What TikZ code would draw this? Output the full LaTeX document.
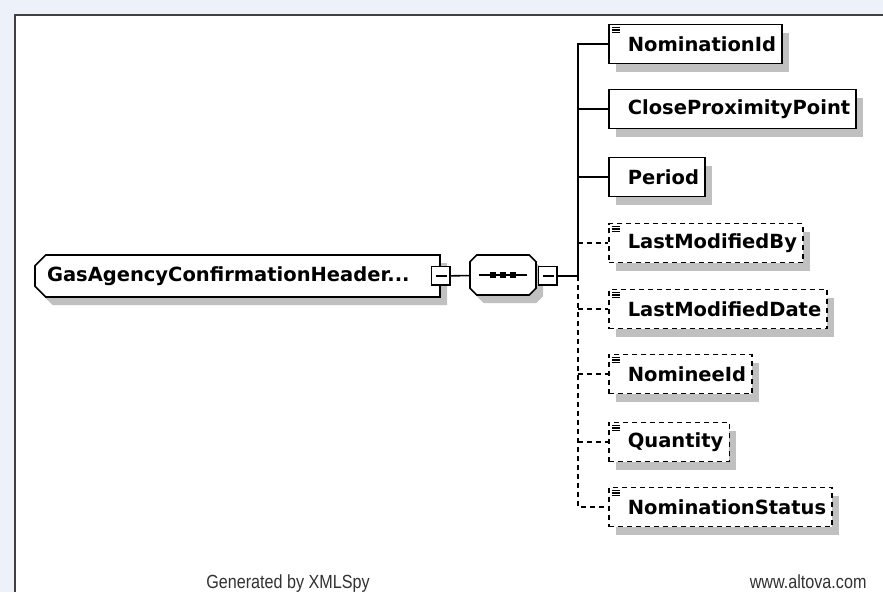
\documentclass[tikz,border=0pt]{standalone}
\usepackage{fontspec}
\setmainfont{DejaVu Sans}
\newfontfamily\footfont[FakeStretch=0.85]{Liberation Sans}
\usetikzlibrary{positioning, shapes.misc, shadows}

\definecolor{pagebg}{RGB}{237,241,250}
\definecolor{framegray}{RGB}{64,64,64}
\definecolor{shadowgray}{RGB}{192,192,192}
\definecolor{foottext}{RGB}{50,50,50}

\tikzset{
  boxshadow/.style={general shadow={shadow xshift=7pt, shadow yshift=-8pt, fill=shadowgray}},
  elem/.style={draw, fill=white, line width=1.6pt, anchor=west, minimum height=39pt,
    inner xsep=6pt, inner ysep=0pt, font=\fontsize{19.5}{19.5}\selectfont\bfseries,
    execute at begin node={\hspace*{13pt}}, boxshadow},
  optelem/.style={elem, dash pattern=on 5pt off 4pt},
  simple/.style={path picture={
    \foreach \k in {3,5.5,8}
      \draw[solid, line width=1.3pt] ([xshift=3pt, yshift=-\k pt]path picture bounding box.north west) -- ++(8pt,0pt);
  }},
  conn/.style={line width=1.6pt},
  optconn/.style={conn, dash pattern=on 5pt off 4pt},
  collapse/.style={draw, fill=white, line width=1.2pt, minimum size=19pt, inner sep=0pt,
    path picture={
      \draw[line width=1.4pt] ([xshift=4pt]path picture bounding box.west) -- ([xshift=-4pt]path picture bounding box.east);
      \draw[line width=4pt] (path picture bounding box.north east) -- (path picture bounding box.south east) -- (path picture bounding box.south west);
  }},
}

\begin{document}
\begin{tikzpicture}[x=1pt, y=-1pt]
  \useasboundingbox (0,0) rectangle (883,592);
  \fill[pagebg] (0,0) rectangle (883,592);
  \fill[white] (15,15) rectangle (883,592);
  \draw[framegray, line width=2pt] (15,592) -- (15,15) -- (883,15);

  % root element and sequence
  \node[draw, fill=white, line width=1.6pt, chamfered rectangle, chamfered rectangle corners={north west, south west},
        chamfered rectangle xsep=7pt, minimum width=391pt, minimum height=42pt, text width=367pt, align=left,
        inner xsep=12pt, font=\fontsize{19.5}{19.5}\selectfont\bfseries, boxshadow]
    (root) at (237.5,276) {\hspace*{-7pt}GasAgencyConfirmationHeader...};
  \node[collapse] (rootm) at (441,276) {};
  \node[draw, fill=white, line width=1.6pt, chamfered rectangle, chamfered rectangle xsep=10pt,
        minimum width=66pt, minimum height=40pt, boxshadow] (seq) at (503,275) {};
  \node[collapse] (seqm) at (548,276) {};
  \coordinate (bus) at (578,276);

  \draw[conn] ([xshift=10pt]seq.west) -- ([xshift=-10pt]seq.east);
  \foreach \dx in {-10,0,10}
    \fill ([xshift=\dx pt]seq.center) ++(-3,-3) rectangle ++(6,6);

  % children
  \node[elem, simple] (nomid) at (608,44) {NominationId};
  \node[elem] (proxpt) at (608,109) {CloseProximityPoint};
  \node[elem] (period) at (608,177) {Period};
  \node[optelem, simple] (lastby) at (608,243) {LastModifiedBy};
  \node[optelem, simple] (lastdate) at (608,309) {LastModifiedDate};
  \node[optelem, simple] (nominee) at (608,374) {NomineeId};
  \node[optelem, simple] (qty) at (608,442) {Quantity};
  \node[optelem, simple] (nomstatus) at (608,507) {NominationStatus};

  % connectors
  \draw[conn] (rootm) -- (seq);
  \draw[conn] (seqm) -- (bus);
  \draw[conn] (bus) |- (nomid.west);
  \draw[conn] (bus) |- (proxpt.west);
  \draw[conn] (bus) |- (period.west);
  \draw[optconn] (lastby.west -| bus) -- (lastby.west);
  \draw[optconn] (bus) |- (nomstatus.west);
  \draw[optconn] (lastdate.west -| bus) -- (lastdate.west);
  \draw[optconn] (nominee.west -| bus) -- (nominee.west);
  \draw[optconn] (qty.west -| bus) -- (qty.west);

  % footer
  \node[font=\footfont\fontsize{19}{19}\selectfont, text=foottext, anchor=base] (gen) at (288,588) {Generated by XMLSpy};
  \node[font=\footfont\fontsize{19}{19}\selectfont, text=foottext, anchor=base east] (site) at (870,588) {www.altova.com};
\end{tikzpicture}
\end{document}
